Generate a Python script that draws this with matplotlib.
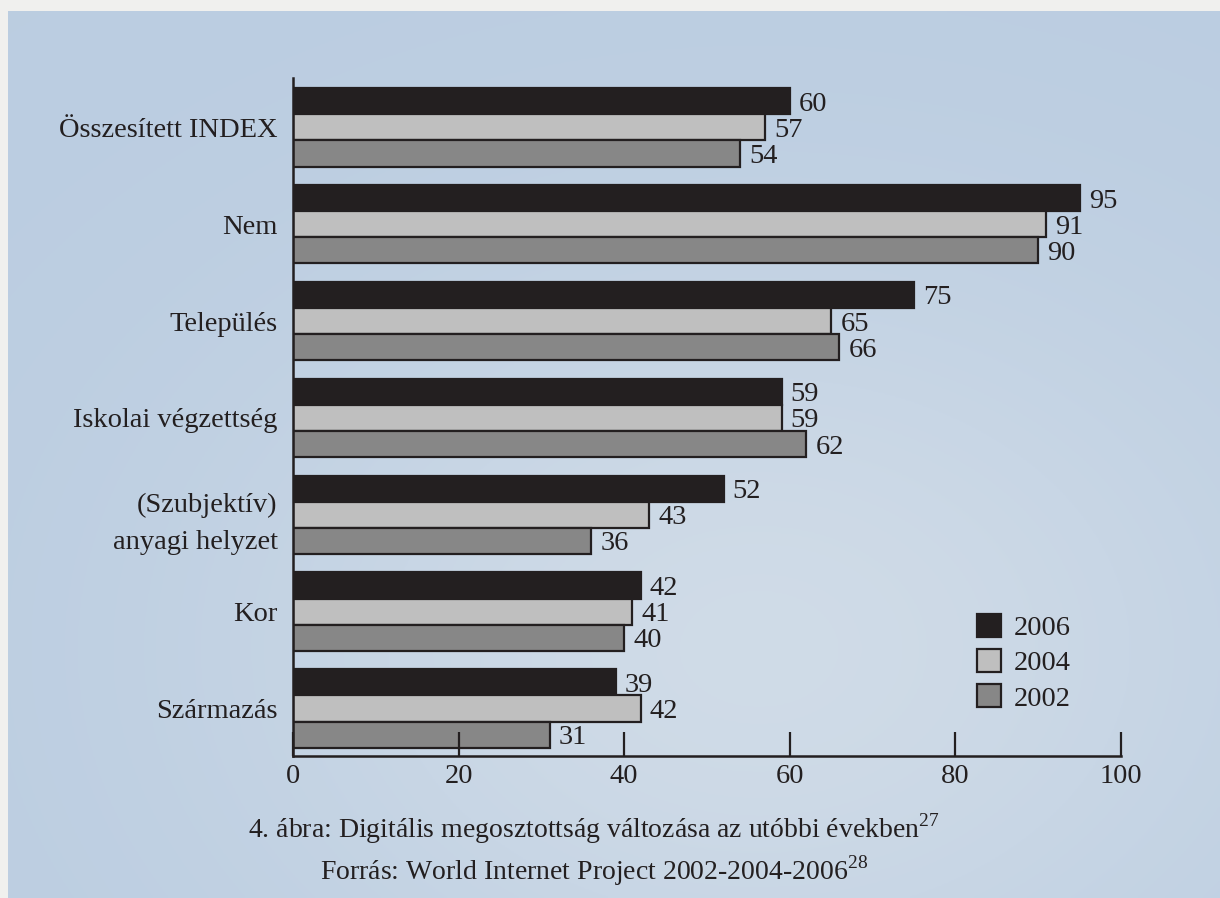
import numpy as np
import matplotlib
matplotlib.use("Agg")
import matplotlib.pyplot as plt

plt.rcParams['font.family'] = ['Liberation Serif', 'DejaVu Serif']
plt.rcParams['mathtext.fontset'] = 'custom'
plt.rcParams['mathtext.rm'] = 'Liberation Serif'

categories = ["Összesített INDEX", "Nem", "Település", "Iskolai végzettség",
              "(Szubjektív)\nanyagi helyzet", "Kor", "Származás"]
years = ["2006", "2004", "2002"]
v2006 = [60, 95, 75, 59, 52, 42, 39]
v2004 = [57, 91, 65, 59, 43, 41, 42]
v2002 = [54, 90, 66, 62, 36, 40, 31]
colors = ["#231f20", "#bfbfbf", "#878787"]
caption = "4. ábra: Digitális megosztottság változása az utóbbi években$^{27}$"
source = "Forrás: World Internet Project 2002-2004-2006$^{28}$"

W, H = 1220, 898
fig = plt.figure(figsize=(W / 100, H / 100), dpi=100)
fig.patch.set_facecolor("#f0f0ee")

# soft blue backdrop with a lighter haze toward the lower middle
bg = fig.add_axes([8 / W, 0, 1 - 8 / W, 1 - 11 / H], zorder=0)
yy, xx = np.mgrid[0:1:300j, 0:1:400j]
haze = np.exp(-(((xx - 0.62) / 0.45) ** 2 + ((yy - 0.72) / 0.45) ** 2))
c0 = np.array([0.733, 0.804, 0.882])
c1 = np.array([0.835, 0.874, 0.914])
img = c0 + (c1 - c0) * (0.8 * haze)[..., None]
bg.imshow(img, aspect="auto", extent=(0, 1, 1, 0))
bg.axis("off")

ax = fig.add_axes([293 / W, 1 - 756 / H, (1121 - 293) / W, (756 - 78) / H], zorder=1)
ax.patch.set_alpha(0)

bh = 0.27
y = np.arange(len(categories))
fs = 20.5
for k, (vals, col, yr) in enumerate(zip([v2006, v2004, v2002], colors, years)):
    pos = y + (k - 1) * bh
    ax.barh(pos, vals, height=bh, color=col, edgecolor="#231f20", linewidth=1.6, label=yr)
    for p, v in zip(pos, vals):
        ax.text(v + 1.1, p + 0.03, str(v), va="center", ha="left", fontsize=fs, color="#231f20")

ax.set_xlim(0, 100)
ax.set_ylim(6.49, -0.51)
ax.set_yticks(y)
ax.set_yticklabels(categories, fontsize=fs, color="#231f20", linespacing=1.65)
ax.tick_params(axis="y", length=0, pad=11)
ax.set_xticks([0, 20, 40, 60, 80, 100])
ax.tick_params(axis="x", direction="in", length=17, width=1.6, color="#231f20",
               labelsize=fs, labelcolor="#231f20", pad=6)
for s in ["top", "right"]:
    ax.spines[s].set_visible(False)
for s in ["left", "bottom"]:
    ax.spines[s].set_linewidth(1.8)
    ax.spines[s].set_color("#231f20")

leg = ax.legend(loc="upper left", bbox_to_anchor=((963 - 293) / (1121 - 293), (756 - 600) / (756 - 78)),
                frameon=False, fontsize=fs, handlelength=0.84, handleheight=0.84,
                handletextpad=0.45, labelspacing=0.28, borderpad=0)
for t in leg.get_texts():
    t.set_color("#231f20")

fig.text(594 / W, 1 - 829 / H, caption, ha="center", va="center", fontsize=20, color="#231f20")
fig.text(594 / W, 1 - 871 / H, source, ha="center", va="center", fontsize=20, color="#231f20")

fig.savefig("out.png", dpi=100, facecolor=fig.get_facecolor())
